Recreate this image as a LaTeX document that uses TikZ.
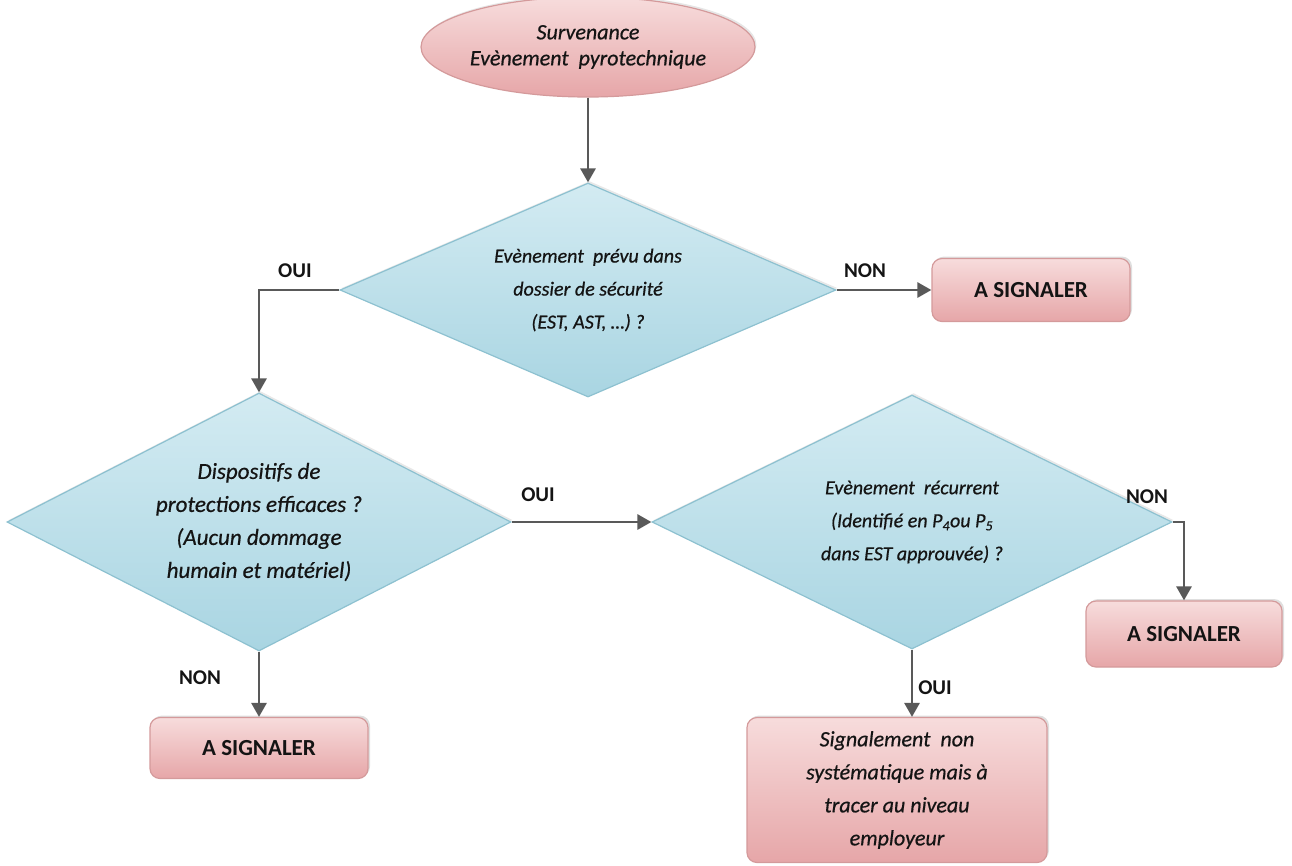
\documentclass[tikz,border=0pt]{standalone}
\usepackage{fontspec}
\setmainfont{Carlito}[ItalicFeatures={FakeBold=0.6}]
\usetikzlibrary{shapes.geometric,arrows.meta,shadows}
\definecolor{conncol}{HTML}{595959}
\definecolor{txtcol}{HTML}{141414}
\definecolor{dtop}{HTML}{D3EBF2}
\definecolor{dbot}{HTML}{A9D5E2}
\definecolor{dedge}{HTML}{8DC1D0}
\definecolor{ptop}{HTML}{F7DCDC}
\definecolor{pbot}{HTML}{E6A6A8}
\definecolor{pedge}{HTML}{D49A9B}
\begin{document}
\begin{tikzpicture}[x=1pt,y=-1pt,
  qtext/.style={font=\fontsize{20}{33}\selectfont\itshape, text=txtcol, align=center},
  decision/.style={diamond, draw=dedge, line width=1.2pt, top color=dtop, bottom color=dbot,
     inner sep=0pt, qtext, shape aspect=2,
     drop shadow={opacity=0.18, shadow xshift=1.5pt, shadow yshift=2pt}},
  signal/.style={rectangle, rounded corners=10pt, draw=pedge, line width=1.2pt,
     top color=ptop, bottom color=pbot, text=txtcol, align=center,
     font=\fontsize{23}{33}\selectfont\bfseries,
     drop shadow={opacity=0.25, shadow xshift=2pt, shadow yshift=2pt}},
  startell/.style={ellipse, draw=pedge, line width=1.2pt, top color=ptop, bottom color=pbot,
     font=\fontsize{22}{26}\selectfont\itshape, text=txtcol, align=center,
     inner sep=0pt, drop shadow={opacity=0.2, shadow xshift=1.5pt, shadow yshift=2pt}},
  lab/.style={font=\fontsize{21}{22}\selectfont\bfseries, text=txtcol, inner sep=1pt},
  conn/.style={draw=conncol, line width=2.8pt, -{Triangle[length=14pt,width=15pt]}}
]
\useasboundingbox (0,0) rectangle (1292,865);

\node[startell, minimum width=305pt, minimum height=100pt] (start) at (588,47)
  {Survenance\\Evènement~ pyrotechnique};

\node[decision, shape aspect=2.3, minimum width=496pt, minimum height=214pt] (q1) at (588,290)
  {Evènement~ prévu dans\\dossier de sécurité\\(EST, AST, …) ?};

\node[signal, minimum width=198pt, minimum height=63pt] (r1) at (1031,290) {A SIGNALER};

\node[decision, shape aspect=1.95, minimum width=504pt, minimum height=258pt,
      font=\fontsize{23}{33}\selectfont\itshape] (q2) at (259,522)
  {Dispositifs de\\protections efficaces ?\\(Aucun dommage\\humain et matériel)};

\node[decision, shape aspect=2.05, minimum width=520pt, minimum height=254pt] (q3) at (912,522)
  {Evènement~ récurrent\\(Identifié en P\textsubscript{4}ou P\textsubscript{5}\\dans EST approuvée) ?};

\node[signal, minimum width=196pt, minimum height=66pt] (r2) at (1184,634) {A SIGNALER};

\node[signal, minimum width=218pt, minimum height=61pt] (r3) at (259,748) {A SIGNALER};

\node[signal, minimum width=300pt, minimum height=145pt,
      font=\fontsize{22}{33}\selectfont\itshape] (r4) at (897,790)
  {Signalement~ non\\systématique mais à\\tracer au niveau\\employeur};

\draw[conn] (start.south) -- (q1.north);
\draw[conn] (q1.west) -| (q2.north);
\draw[conn] (q1.east) -- (r1.west);
\draw[conn] (q2.east) -- (q3.west);
\draw[conn] (q3.east) -| (r2.north);
\draw[conn] (q3.south) -- (q3.south |- r4.north);
\draw[conn] (q2.south) -- (r3.north);

\node[lab] (l1) at (295,271) {OUI};
\node[lab] (l2) at (865,271) {NON};
\node[lab] (l3) at (538,495) {OUI};
\node[lab] (l4) at (1147,497) {NON};
\node[lab] (l5) at (935,688) {OUI};
\node[lab] (l6) at (200,678) {NON};
\end{tikzpicture}
\end{document}
